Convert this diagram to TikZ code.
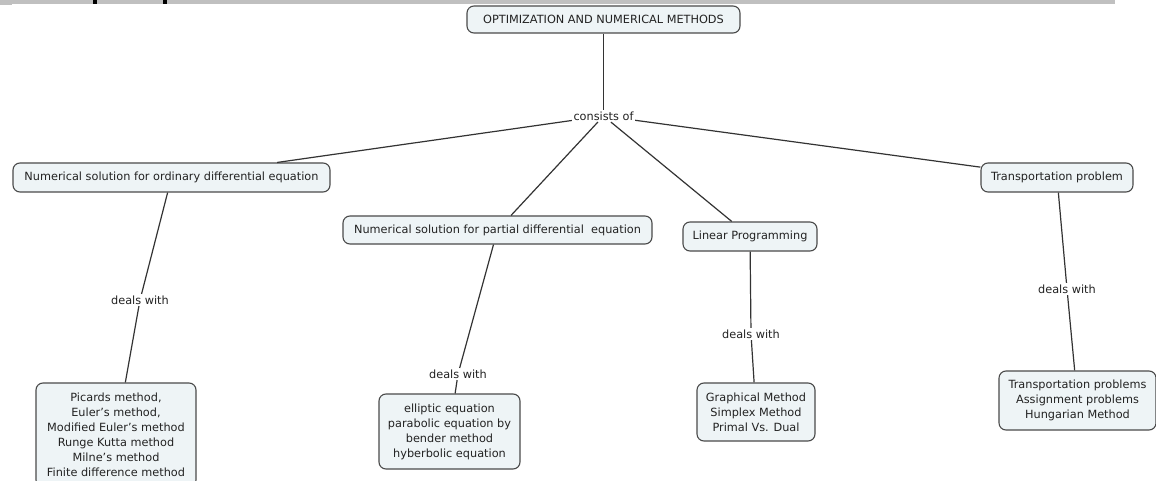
\documentclass[tikz,border=0pt]{standalone}
\usepackage{fontspec}
\setmainfont{DejaVu Sans}
\definecolor{boxfill}{HTML}{EEF4F6}
\definecolor{boxline}{HTML}{4A4A4A}
\definecolor{linkgray}{HTML}{333333}
\definecolor{textgray}{HTML}{222222}
\definecolor{bargray}{HTML}{C0C0C0}
\begin{document}
\begin{tikzpicture}[x=1pt,y=-1pt,
  concept/.style={draw=boxline, fill=boxfill, rounded corners=7pt, line width=1.1pt,
    align=center, inner sep=2pt, text=textgray, font=\fontsize{11.3}{15}\selectfont},
  linkword/.style={inner sep=1.5pt, text=textgray, font=\fontsize{11.3}{13}\selectfont},
  link/.style={draw=linkgray, line width=1.2pt}]
% page frame
\fill[white] (0,0) rectangle (1156,481);
\useasboundingbox (0,0) rectangle (1156,481);
% strip along the top edge
\fill[bargray] (0,0) rectangle (1115,4);
\fill[bargray] (0,0) rectangle (12,5.5);
\fill[black] (93,0) rectangle (97,4);
\fill[black] (163,0) rectangle (167,4);

% concepts
\node[concept, minimum width=273pt, minimum height=27pt] (root) at (603.5,19.5) {OPTIMIZATION AND NUMERICAL METHODS};
\node[concept, minimum width=317pt, minimum height=29pt] (ode) at (171.5,177.5) {Numerical solution for ordinary differential equation};
\node[concept, minimum width=309pt, minimum height=28pt] (pde) at (497.5,230) {Numerical solution for partial differential\ \ equation};
\node[concept, minimum width=134pt, minimum height=29pt] (lp) at (750,236.5) {Linear Programming};
\node[concept, minimum width=152pt, minimum height=29pt] (tp) at (1057,177.5) {Transportation problem};

\node[concept, minimum width=160pt, minimum height=104pt] (odeleaf) at (116,435)
  {Picards method,\\ Euler’s method,\\ Modified Euler’s method\\ Runge Kutta method\\ Milne’s method\\ Finite difference method};
\node[concept, minimum width=141pt, minimum height=75pt] (pdeleaf) at (449.5,431.5)
  {elliptic equation\\ parabolic equation by\\ bender method\\ hyberbolic equation};
\node[concept, minimum width=118pt, minimum height=58pt] (lpleaf) at (756,412)
  {Graphical Method\\ Simplex Method\\ Primal Vs. Dual};
\node[concept, minimum width=157pt, minimum height=59pt] (tpleaf) at (1077.5,400.5)
  {Transportation problems\\ Assignment problems\\ Hungarian Method};

% linking phrases
\node[linkword] (cons) at (603.5,116) {consists of};
\node[linkword] (odelink) at (140,300) {deals with};
\node[linkword] (pdelink) at (458,374) {deals with};
\node[linkword] (lplink) at (751,334) {deals with};
\node[linkword] (tplink) at (1067,289) {deals with};

% connectors
\draw[link] (root) -- (cons);
\draw[link] (cons) -- (ode);
\draw[link] (cons) -- (pde);
\draw[link] (cons) -- (lp);
\draw[link] (cons) -- (tp);
\draw[link] (ode) -- (odelink);
\draw[link] (odelink) -- (odeleaf);
\draw[link] (pde) -- (pdelink);
\draw[link] (pdelink) -- (pdeleaf);
\draw[link] (lp) -- (lplink);
\draw[link] (lplink) -- (lpleaf);
\draw[link] (tp) -- (tplink);
\draw[link] (tplink) -- (tpleaf);
\end{tikzpicture}
\end{document}
